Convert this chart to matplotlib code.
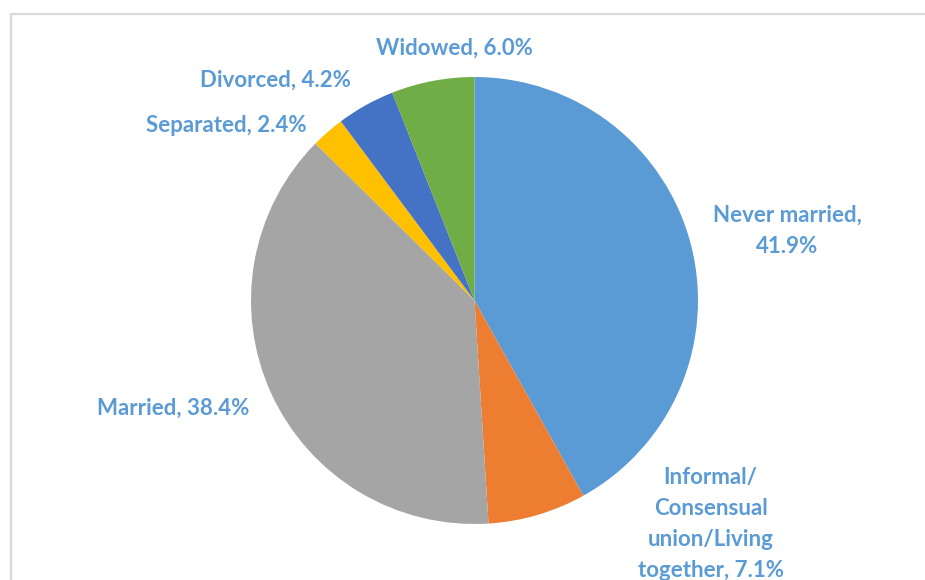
import numpy as np
import matplotlib.pyplot as plt
from matplotlib.patches import Rectangle

categories = ["Never married", "Informal/Consensual union/Living together", "Married",
              "Separated", "Divorced", "Widowed"]
shares = [41.9, 7.1, 38.4, 2.4, 4.2, 6.0]
colors = ["#5B9BD5", "#ED7D31", "#A5A5A5", "#FFC000", "#4472C4", "#70AD47"]
label_text = ["Never married,\n41.9%", "Informal/\nConsensual\nunion/Living\ntogether, 7.1%",
              "Married, 38.4%", "Separated, 2.4%", "Divorced, 4.2%", "Widowed, 6.0%"]
# label offsets from pie centre, in units of radius (x, y)
label_pos = [(1.40, 0.31), (1.056, -1.0), (-1.347, -0.48), (-1.111, 0.785), (-0.892, 0.985), (-0.092, 1.128)]

W, H = 925, 580
fig = plt.figure(figsize=(W / 100, H / 100), dpi=100)
ax = fig.add_axes([0, 0, 1, 1])

# chart area border (only top/left visible)
fig.patches.append(Rectangle((11 / W, -0.1), 1.2, (H - 14) / H + 0.1, transform=fig.transFigure,
                             fill=False, edgecolor="#D9D9D9", linewidth=1.6))

cx, cy, r = 474.5, H - 300.5, 223.5
ax.pie(shares, colors=colors, startangle=90, counterclock=False, center=(cx, cy), radius=r,
       wedgeprops=dict(linewidth=0), frame=True)
ax.set_xlim(0, W)
ax.set_ylim(0, H)
ax.set_aspect("equal")
ax.axis("off")

for txt, (dx, dy) in zip(label_text, label_pos):
    ax.text(cx + dx * r, cy + dy * r, txt, ha="center", va="center", color="#5B9BD5",
            fontsize=16, fontweight="bold", family="Lato", linespacing=1.6)

fig.savefig("out.png", dpi=100)
